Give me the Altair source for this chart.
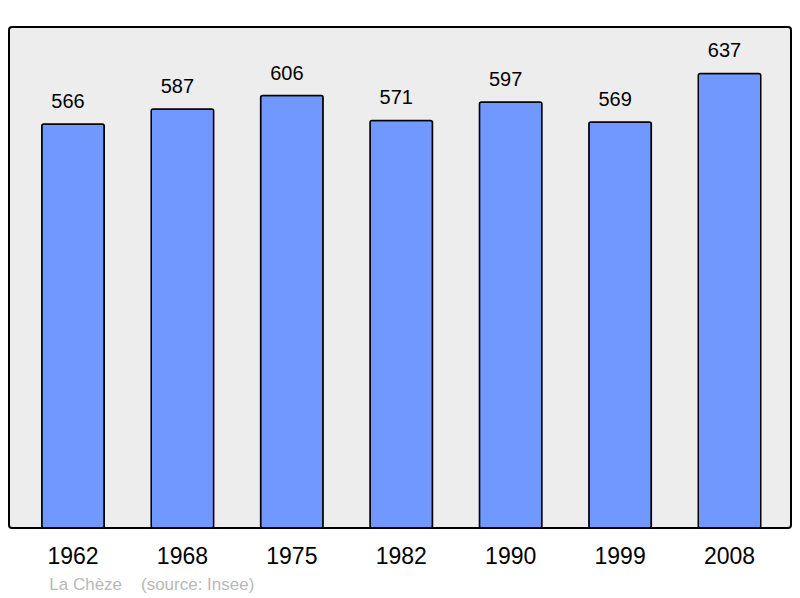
import altair as alt
import pandas as pd

# Population figures
years = ['1962', '1968', '1975', '1982', '1990', '1999', '2008']
population = [566, 587, 606, 571, 597, 569, 637]

commune = 'La Chèze'
source = '(source: Insee)'

df = pd.DataFrame({'year': years, 'pop': population})
footer_df = pd.DataFrame({'label': [commune + '\u00a0' * 4 + source]})

FONT = 'Liberation Sans'

x = alt.X('year:N', sort=years, title=None,
          scale=alt.Scale(paddingInner=0.429, paddingOuter=0.288, align=0.52),
          axis=alt.Axis(labelAngle=0, labelFontSize=23, labelColor='black',
                        labelFont=FONT, labelPadding=17.5, ticks=False,
                        tickSize=0, domain=False, grid=False))
y = alt.Y('pop:Q', title=None, scale=alt.Scale(domain=[0, 702], nice=False),
          axis=None)

bars = alt.Chart(df).mark_bar(
    color='#7098ff', stroke='black', strokeWidth=1.5, cornerRadius=2
).encode(x=x, y=y)

# value labels sit a little left of the bar centre, as in the original
values = alt.Chart(df).mark_text(
    baseline='alphabetic', dx=-5, dy=-16, fontSize=20, font=FONT, color='black'
).encode(x=x, y=y, text='pop:Q')

footer = alt.Chart(footer_df).mark_text(
    align='left', baseline='alphabetic', fontSize=17, font=FONT,
    color='#b8b8b8', clip=False
).encode(x=alt.value(40.3), y=alt.value(562.5), text='label:N')

chart = alt.layer(bars, values, footer).properties(
    width=782,
    height=501,
    autosize=alt.AutoSizeParams(type='none'),
    padding={'left': 1, 'top': 19, 'right': 1, 'bottom': 70},
    background='white'
).configure_view(
    fill='#ededed', stroke='black', strokeWidth=2, cornerRadius=3
)

chart.save('out.html', embed_options={'renderer': 'svg', 'actions': False})
